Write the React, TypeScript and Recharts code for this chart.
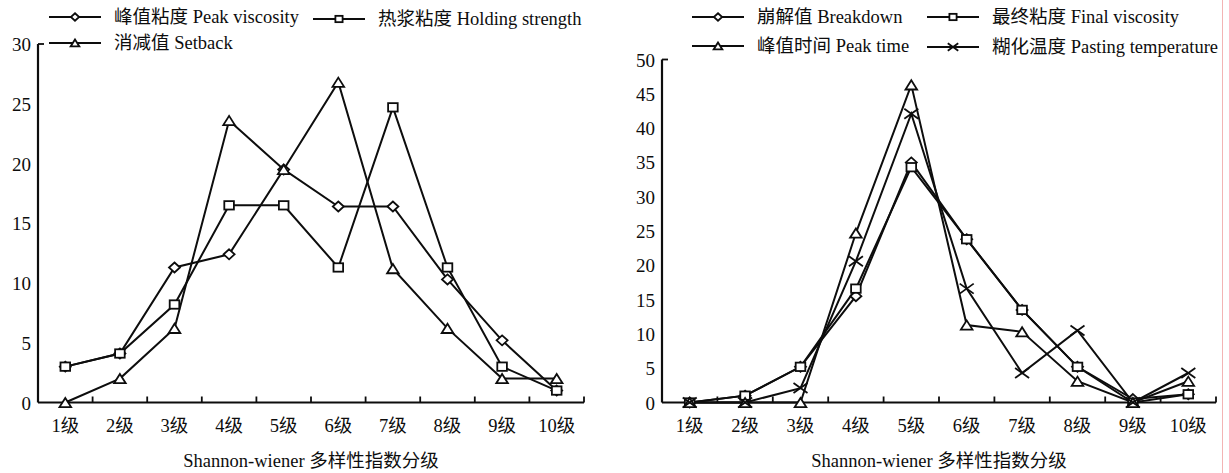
import React from 'react';
import { LineChart, Line, XAxis, YAxis, Legend, Label } from 'recharts';

// ---------------- data ----------------
const categories = ['1级', '2级', '3级', '4级', '5级', '6级', '7级', '8级', '9级', '10级'];

// left panel
const peakViscosity = [3.0, 4.1, 11.3, 12.4, 19.5, 16.4, 16.4, 10.3, 5.2, 1.0];
const holdingStrength = [3.0, 4.1, 8.2, 16.5, 16.5, 11.3, 24.7, 11.3, 3.0, 1.0];
const setback = [0, 2.0, 6.2, 23.6, 19.5, 26.8, 11.2, 6.2, 2.0, 2.0];

// right panel
const breakdown = [0, 1.0, 5.2, 15.5, 35.0, 23.8, 13.5, 5.2, 0.5, 1.2];
const finalViscosity = [0, 1.0, 5.2, 16.6, 34.3, 23.8, 13.5, 5.2, 0, 1.2];
const peakTime = [0, 0, 0, 24.7, 46.3, 11.3, 10.3, 3.1, 0, 3.1];
const pastingTemperature = [0, 0, 2.1, 20.6, 42.1, 16.6, 4.3, 10.5, 0, 4.3];

const leftTicks = [0, 5, 10, 15, 20, 25, 30];
const rightTicks = [0, 5, 10, 15, 20, 25, 30, 35, 40, 45, 50];

const axisTitle = 'Shannon-wiener 多样性指数分级';

const leftSeries = [
  { key: 'peakViscosity', name: '峰值粘度 Peak viscosity', values: peakViscosity, marker: 'diamond' },
  { key: 'holdingStrength', name: '热浆粘度 Holding strength', values: holdingStrength, marker: 'square' },
  { key: 'setback', name: '消减值 Setback', values: setback, marker: 'triangle' },
];
const rightSeries = [
  { key: 'breakdown', name: '崩解值 Breakdown', values: breakdown, marker: 'diamond' },
  { key: 'finalViscosity', name: '最终粘度 Final viscosity', values: finalViscosity, marker: 'square' },
  { key: 'peakTime', name: '峰值时间 Peak time', values: peakTime, marker: 'triangle' },
  { key: 'pastingTemperature', name: '糊化温度 Pasting temperature', values: pastingTemperature, marker: 'cross' },
];

const buildData = (series: typeof leftSeries) =>
  categories.map((c, i) => {
    const row: Record<string, any> = { grade: c };
    series.forEach((s) => (row[s.key] = s.values[i]));
    return row;
  });

const leftData = buildData(leftSeries);
const rightData = buildData(rightSeries);

// ---------------- styles ----------------
const FONT = '"Liberation Serif", "Times New Roman", "Noto Sans CJK SC", serif';
const INK = '#0d0d0d';
const FS = 18.5;

type Kind = 'diamond' | 'square' | 'triangle' | 'cross';

function Marker({ kind, cx, cy, s = 1 }: { kind: Kind; cx: number; cy: number; s?: number }) {
  const sw = 1.8;
  if (kind === 'diamond') {
    const w = 5.5 * s, h = 5 * s;
    return (
      <polygon
        points={`${cx},${cy - h} ${cx + w},${cy} ${cx},${cy + h} ${cx - w},${cy}`}
        fill="#fff"
        stroke={INK}
        strokeWidth={sw}
      />
    );
  }
  if (kind === 'square') {
    const w = 4.8 * s, h = 4.2 * s;
    return <rect x={cx - w} y={cy - h} width={2 * w} height={2 * h} fill="#fff" stroke={INK} strokeWidth={sw} />;
  }
  if (kind === 'triangle') {
    const w = 5.8 * s, h = 4.6 * s;
    return (
      <polygon
        points={`${cx},${cy - h} ${cx + w},${cy + h} ${cx - w},${cy + h}`}
        fill="#fff"
        stroke={INK}
        strokeWidth={sw}
      />
    );
  }
  const w = 7 * s, h = 5 * s;
  return (
    <g stroke={INK} strokeWidth={sw}>
      <line x1={cx - w} y1={cy - h} x2={cx + w} y2={cy + h} />
      <line x1={cx - w} y1={cy + h} x2={cx + w} y2={cy - h} />
    </g>
  );
}

const dotFor = (kind: Kind) => (props: any) => {
  const { cx, cy, index } = props;
  if (cx == null || cy == null) return <g key={`${kind}-${index}`} />;
  return (
    <g key={`${kind}-${index}`}>
      <Marker kind={kind} cx={cx} cy={cy} />
    </g>
  );
};

const makeXTick = (halfBand: number) => (props: any) => {
  const { x, y, payload, index } = props;
  return (
    <g key={`xt-${index}`}>
      <line x1={x + halfBand} y1={y - 6} x2={x + halfBand} y2={y} stroke={INK} strokeWidth={1.8} />
      <text x={x} y={y + 29} textAnchor="middle" fontFamily={FONT} fontSize={FS} fill={INK}>
        {payload.value}
      </text>
    </g>
  );
};

const makeYTick = (top: number) => (props: any) => {
  const { x, y, payload, index } = props;
  return (
    <g key={`yt-${index}`}>
      {payload.value === top && <line x1={x} y1={y} x2={x + 6} y2={y} stroke={INK} strokeWidth={1.8} />}
      <text x={x - 7} y={y + 7} textAnchor="end" fontFamily={FONT} fontSize={19} fill={INK}>
        {payload.value}
      </text>
    </g>
  );
};

const makeLegend =
  (series: { key: string; name: string; marker: string }[], pos: { x: number; y: number }[], w: number) =>
  () =>
    (
      <svg width={w} height={60} style={{ display: 'block' }}>
        {series.map((s, i) => {
          const p = pos[i];
          return (
            <g key={s.key}>
              <line x1={p.x} y1={p.y} x2={p.x + 52} y2={p.y} stroke={INK} strokeWidth={2.2} />
              <Marker kind={s.marker as Kind} cx={p.x + 26} cy={p.y} s={0.75} />
              <text x={p.x + 65} y={p.y + 6} fontFamily={FONT} fontSize={FS} fill={INK}>
                {s.name}
              </text>
            </g>
          );
        })}
      </svg>
    );

// geometry
const LW = 600;
const RW = 609;
const H = 473;

const leftLegendPos = [
  { x: 49, y: 17 },
  { x: 313, y: 19 },
  { x: 49, y: 43 },
];
const rightLegendPos = [
  { x: 72, y: 17 },
  { x: 307, y: 17 },
  { x: 72, y: 46 },
  { x: 307, y: 47 },
];

export default function App() {
  const leftPlotW = 584 - 38;
  const rightPlotW = 1216 - 662;
  return (
    <div style={{ position: 'absolute', left: 0, top: 0, width: 1229, height: H, background: '#fff' }}>
      <div style={{ position: 'absolute', left: 0, top: 0 }}>
        <LineChart width={LW} height={H} data={leftData} margin={{ top: 44, right: LW - 584, left: 0, bottom: 0 }}>
          <XAxis
            dataKey="grade"
            scale="band"
            height={70.5}
            tickSize={0}
            tickMargin={0}
            tickLine={false}
            interval={0}
            axisLine={{ stroke: INK, strokeWidth: 2.2 }}
            tick={makeXTick(leftPlotW / 20)}
          >
            <Label value={axisTitle} position="insideBottom" offset={6} fill={INK} fontSize={FS} fontFamily={FONT} />
          </XAxis>
          <YAxis
            width={38}
            domain={[0, 30]}
            ticks={leftTicks}
            interval={0}
            tickSize={0}
            tickMargin={0}
            tickLine={false}
            axisLine={{ stroke: INK, strokeWidth: 2.2 }}
            tick={makeYTick(30)}
          />
          <Legend
            layout="horizontal"
            verticalAlign="middle"
            align="center"
            wrapperStyle={{ top: 0, left: 0, width: LW, height: 60 }}
            content={makeLegend(leftSeries, leftLegendPos, LW)}
          />
          {leftSeries.map((s) => (
            <Line
              key={s.key}
              dataKey={s.key}
              name={s.name}
              stroke={INK}
              strokeWidth={2}
              dot={dotFor(s.marker as Kind)}
              activeDot={false}
              isAnimationActive={false}
            />
          ))}
        </LineChart>
      </div>
      <div style={{ position: 'absolute', left: 620, top: 0 }}>
        <LineChart
          width={RW}
          height={H}
          data={rightData}
          margin={{ top: 59.5, right: RW - (1216 - 620), left: 0, bottom: 0 }}
        >
          <XAxis
            dataKey="grade"
            scale="band"
            height={70.5}
            tickSize={0}
            tickMargin={0}
            tickLine={false}
            interval={0}
            axisLine={{ stroke: INK, strokeWidth: 2.2 }}
            tick={makeXTick(rightPlotW / 20)}
          >
            <Label value={axisTitle} position="insideBottom" offset={6} fill={INK} fontSize={FS} fontFamily={FONT} />
          </XAxis>
          <YAxis
            width={42}
            domain={[0, 50]}
            ticks={rightTicks}
            interval={0}
            tickSize={0}
            tickMargin={0}
            tickLine={false}
            axisLine={{ stroke: INK, strokeWidth: 2.2 }}
            tick={makeYTick(50)}
          />
          <Legend
            layout="horizontal"
            verticalAlign="middle"
            align="center"
            wrapperStyle={{ top: 0, left: 0, width: RW, height: 60 }}
            content={makeLegend(rightSeries, rightLegendPos, RW)}
          />
          {rightSeries.map((s) => (
            <Line
              key={s.key}
              dataKey={s.key}
              name={s.name}
              stroke={INK}
              strokeWidth={2}
              dot={dotFor(s.marker as Kind)}
              activeDot={false}
              isAnimationActive={false}
            />
          ))}
        </LineChart>
      </div>
      <div style={{ position: 'absolute', left: 1222, top: 0, width: 1, height: H, background: '#f3b4b4' }} />
    </div>
  );
}
